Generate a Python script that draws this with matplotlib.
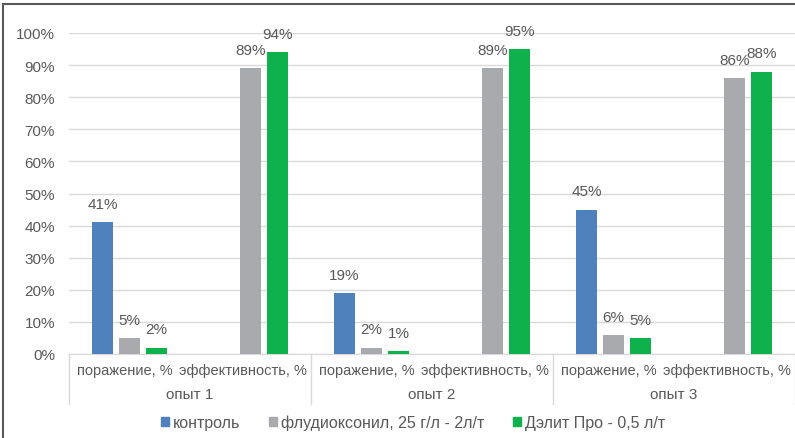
import numpy as np
import matplotlib.pyplot as plt
from matplotlib.patches import Patch
from matplotlib.lines import Line2D

plt.rcParams['font.family'] = ['Liberation Sans', 'DejaVu Sans']

categories = ['поражение, %', 'эффективность, %'] * 3
groups = ['опыт 1', 'опыт 2', 'опыт 3']
series = ['контроль', 'флудиоксонил, 25 г/л - 2л/т', 'Дэлит Про - 0,5 л/т']
control = [41, np.nan, 19, np.nan, 45, np.nan]
fludi = [5, 89, 2, 89, 6, 86]
delit = [2, 94, 1, 95, 5, 88]
colors = ['#4f81bd', '#a9aaad', '#0fb14c']
txt = '#595959'

fig = plt.figure(figsize=(7.95, 4.39), dpi=100)
ax = fig.add_axes([69 / 795, 84 / 439, 726 / 795, 321 / 439])

x = np.arange(len(categories))
w = 0.174
step = 0.223
for i, (vals, c) in enumerate(zip([control, fludi, delit], colors)):
    ax.bar(x + (i - 1) * step, vals, width=w, color=c, zorder=3)
    for xi, v in zip(x + (i - 1) * step, vals):
        if not np.isnan(v):
            ax.annotate(f'{v:.0f}%', (xi, v), xytext=(0, 8), textcoords='offset points',
                        ha='center', va='bottom', fontsize=11, color=txt)

ax.set_xlim(-0.5, len(categories) - 0.5)
ax.set_ylim(0, 100)
ax.set_yticks(range(0, 101, 10))
ax.set_yticklabels([f'{t}%' for t in range(0, 101, 10)])
ax.tick_params(axis='y', length=0, pad=10, labelsize=11, labelcolor=txt)
ax.set_xticks([])
ax.grid(axis='y', color='#d9d9d9', linewidth=1, zorder=0)
for s in ['top', 'right', 'left']:
    ax.spines[s].set_visible(False)
ax.spines['bottom'].set_color('#d9d9d9')

tr = ax.get_xaxis_transform()
for xi, lab in zip(x, categories):
    dx = -5 if xi % 2 == 0 else -8
    ax.annotate(lab, (xi, -0.05), xycoords=tr, xytext=(dx, 0), textcoords='offset pixels',
                ha='center', va='center', fontsize=10.5, color=txt, annotation_clip=False)
for gi, g in enumerate(groups):
    ax.text(2 * gi + 0.5, -0.125, g, transform=tr, ha='center', va='center', fontsize=11, color=txt)
for b in [-0.5, 1.5, 3.5, 5.5]:
    ax.add_line(Line2D([b, b], [0, -0.156], transform=tr, color='#d9d9d9', lw=1, clip_on=False))

handles = [Patch(color=c) for c in colors]
fig.legend(handles, series, loc='center', bbox_to_anchor=(413 / 795, 1 - 423 / 439), ncol=3,
           frameon=False, fontsize=11.5, handlelength=0.5, handleheight=0.5,
           handletextpad=0.25, columnspacing=1.8, labelcolor=txt)

# outer frame
fig.add_artist(Line2D([3 / 795, 3 / 795], [0, 1 - 5 / 439], transform=fig.transFigure, color='#595959', lw=1.5))
fig.add_artist(Line2D([3 / 795, 1], [1 - 5 / 439, 1 - 5 / 439], transform=fig.transFigure, color='#595959', lw=1.5))

fig.savefig('out.png', dpi=100)
